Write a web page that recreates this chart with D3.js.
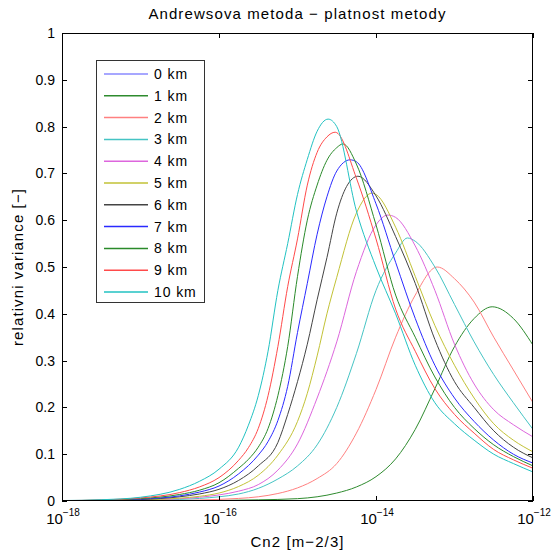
<!DOCTYPE html>
<html><head><meta charset="utf-8">
<script src="https://cdn.jsdelivr.net/npm/d3@7"></script>
<style>
body{margin:0;background:#fff}
svg{display:block}
text{font-family:"Liberation Sans",Arial,Helvetica,sans-serif;fill:#000}
</style>
</head><body>
<svg id="c" width="554" height="554"></svg>
<script>
// ---- data (x as log10 Cn2, y as relative variance) ----
const titleText = "Andrewsova metoda \u2212 platnost metody";
const xLabelText = "Cn2 [m\u22122/3]";
const yLabelText = "relativni variance [\u2212]";
const legendLabels = ["0 km","1 km","2 km","3 km","4 km","5 km","6 km","7 km","8 km","9 km","10 km"];
const lineColors = ["#8a8aff","#2e8b2e","#ff8080","#45c4c4","#dd66dd","#c2c236","#444444","#2a2aff","#2a8a2a","#ff4a4a","#22c2c2"];
const yTicks = [0,0.1,0.2,0.3,0.4,0.5,0.6,0.7,0.8,0.9,1];
const yTickLabels = ["0","0.1","0.2","0.3","0.4","0.5","0.6","0.7","0.8","0.9","1"];
const xTicks = [1e-18,1e-16,1e-14,1e-12];
const xTickExp = ["\u221218","\u221216","\u221214","\u221212"];

const km0 = [[-18,0],[-16,0],[-14,0],[-13,0.0005],[-12,0.001]];
const km1 = [[-18,0],[-17,0.0004],[-16,0.0012],[-15.5,0.0025],[-15,0.005],[-14.75,0.009],[-14.5,0.017],[-14.25,0.03],[-14,0.052],[-13.75,0.09],[-13.5,0.153],[-13.25,0.24],[-13,0.33],[-12.75,0.39],[-12.52,0.415],[-12.25,0.39],[-12,0.333]];
const km2 = [[-18,0],[-17.5,0.0001],[-17,0.0004],[-16.5,0.0013],[-16,0.0035],[-15.75,0.0055],[-15.5,0.009],[-15.25,0.016],[-15,0.028],[-14.75,0.048],[-14.5,0.08],[-14.25,0.145],[-14,0.238],[-13.75,0.35],[-13.5,0.44],[-13.22,0.5],[-13,0.475],[-12.75,0.425],[-12.5,0.35],[-12.25,0.28],[-12,0.21]];
const km3 = [[-18,0.0001],[-17.5,0.0004],[-17,0.0012],[-16.5,0.0033],[-16.25,0.0055],[-16,0.009],[-15.75,0.015],[-15.5,0.027],[-15.25,0.047],[-15,0.075],[-14.75,0.12],[-14.5,0.2],[-14.25,0.315],[-14,0.45],[-13.75,0.53],[-13.6,0.562],[-13.5,0.555],[-13.25,0.5],[-13,0.42],[-12.75,0.34],[-12.5,0.27],[-12.25,0.21],[-12,0.153]];
const km4 = [[-18,0.0002],[-17.5,0.0006],[-17,0.0017],[-16.5,0.0048],[-16.25,0.008],[-16,0.013],[-15.75,0.021],[-15.5,0.035],[-15.25,0.066],[-15,0.122],[-14.75,0.22],[-14.5,0.34],[-14.25,0.49],[-14,0.59],[-13.85,0.611],[-13.75,0.606],[-13.5,0.545],[-13.25,0.45],[-13,0.335],[-12.75,0.25],[-12.5,0.195],[-12.25,0.163],[-12,0.137]];
const km5 = [[-18,0.0002],[-17.5,0.0007],[-17,0.002],[-16.5,0.006],[-16.25,0.01],[-16,0.017],[-15.75,0.031],[-15.5,0.055],[-15.25,0.098],[-15,0.17],[-14.875,0.23],[-14.75,0.31],[-14.625,0.4],[-14.5,0.478],[-14.25,0.615],[-14.05,0.658],[-14,0.655],[-13.75,0.585],[-13.5,0.48],[-13.25,0.375],[-13,0.29],[-12.75,0.22],[-12.5,0.165],[-12.25,0.13],[-12,0.105]];
const km6 = [[-18,0.0004],[-17.5,0.001],[-17,0.003],[-16.5,0.009],[-16.25,0.015],[-16,0.025],[-15.75,0.044],[-15.5,0.075],[-15.25,0.125],[-15.125,0.185],[-15,0.255],[-14.875,0.335],[-14.75,0.43],[-14.625,0.52],[-14.5,0.615],[-14.375,0.672],[-14.23,0.694],[-14,0.652],[-13.75,0.565],[-13.5,0.465],[-13.25,0.345],[-13,0.255],[-12.75,0.2],[-12.5,0.15],[-12.25,0.115],[-12,0.092]];
const km7 = [[-18,0.0005],[-17.5,0.0014],[-17,0.004],[-16.5,0.011],[-16.25,0.019],[-16,0.032],[-15.75,0.058],[-15.5,0.098],[-15.375,0.127],[-15.25,0.172],[-15.125,0.245],[-15,0.36],[-14.875,0.465],[-14.75,0.57],[-14.625,0.65],[-14.5,0.705],[-14.33,0.729],[-14.25,0.725],[-14,0.635],[-13.75,0.51],[-13.5,0.39],[-13.25,0.29],[-13,0.22],[-12.75,0.17],[-12.5,0.13],[-12.25,0.1],[-12,0.081]];
const km8 = [[-18,0.0006],[-17.5,0.0018],[-17,0.005],[-16.5,0.014],[-16.25,0.023],[-16,0.039],[-15.75,0.07],[-15.625,0.089],[-15.5,0.115],[-15.375,0.155],[-15.25,0.225],[-15.125,0.33],[-15,0.48],[-14.875,0.6],[-14.75,0.675],[-14.625,0.728],[-14.5,0.755],[-14.42,0.763],[-14.25,0.72],[-14,0.59],[-13.75,0.44],[-13.5,0.35],[-13.25,0.265],[-13,0.2],[-12.75,0.155],[-12.5,0.12],[-12.25,0.095],[-12,0.075]];
const km9 = [[-18,0.0008],[-17.5,0.0023],[-17,0.0065],[-16.5,0.018],[-16.25,0.03],[-16,0.05],[-15.75,0.087],[-15.625,0.114],[-15.5,0.155],[-15.375,0.225],[-15.25,0.33],[-15.125,0.458],[-15,0.56],[-14.875,0.675],[-14.75,0.745],[-14.625,0.778],[-14.52,0.788],[-14.5,0.787],[-14.25,0.69],[-14,0.56],[-13.75,0.41],[-13.5,0.32],[-13.25,0.24],[-13,0.185],[-12.75,0.145],[-12.5,0.11],[-12.25,0.088],[-12,0.07]];
const km10 = [[-18,0.001],[-17.5,0.0027],[-17,0.008],[-16.5,0.025],[-16.25,0.042],[-16,0.068],[-15.75,0.115],[-15.625,0.162],[-15.5,0.225],[-15.375,0.32],[-15.25,0.45],[-15.125,0.55],[-15,0.655],[-14.875,0.73],[-14.75,0.79],[-14.61,0.816],[-14.5,0.8],[-14.25,0.62],[-14,0.5],[-13.75,0.4],[-13.5,0.29],[-13.25,0.21],[-13,0.165],[-12.75,0.13],[-12.5,0.1],[-12.25,0.08],[-12,0.062]];
const seriesList = [km0,km1,km2,km3,km4,km5,km6,km7,km8,km9,km10];

// ---- layout ----
const L = 62, R = 533, T = 33, B = 501;
const svg = d3.select("#c");
const x = d3.scaleLog().domain([1e-18,1e-12]).range([L,R]);
const y = d3.scaleLinear().domain([0,1]).range([B,T]);

// curves
svg.append("clipPath").attr("id","pc").append("rect")
  .attr("x",L).attr("y",T).attr("width",R-L).attr("height",B-T);
const line = d3.line()
  .x(d => x(Math.pow(10,d[0])))
  .y(d => y(d[1]))
  .curve(d3.curveMonotoneX);
const g = svg.append("g").attr("clip-path","url(#pc)");
seriesList.forEach((s,i) => {
  g.append("path").datum(s).attr("d",line)
    .attr("fill","none").attr("stroke",lineColors[i]).attr("stroke-width",1);
});

// axes box
const ax = svg.append("g");
ax.append("rect").attr("x",L+0.5).attr("y",T+0.5).attr("width",R-L-1).attr("height",B-T-1)
  .attr("fill","none").attr("stroke","#000").attr("stroke-width",1);

// y ticks (inside, both sides)
const tl = 5;
yTicks.forEach((v,i) => {
  const yy = Math.round(y(v)) + 0.5;
  ax.append("line").attr("x1",L).attr("x2",L+tl).attr("y1",yy).attr("y2",yy).attr("stroke","#000");
  ax.append("line").attr("x1",R-tl).attr("x2",R).attr("y1",yy).attr("y2",yy).attr("stroke","#000");
  ax.append("text").attr("x",L-7).attr("y",y(v)).attr("dy","0.35em")
    .attr("text-anchor","end").attr("font-size",14).text(yTickLabels[i]);
});
// x ticks (inside, top & bottom)
xTicks.forEach((v,i) => {
  const xx = Math.round(x(v)) + 0.5;
  ax.append("line").attr("x1",xx).attr("x2",xx).attr("y1",B).attr("y2",B-tl).attr("stroke","#000");
  ax.append("line").attr("x1",xx).attr("x2",xx).attr("y1",T).attr("y2",T+tl).attr("stroke","#000");
  const t = ax.append("text").attr("x",x(v)+1).attr("y",524).attr("text-anchor","middle").attr("font-size",15);
  t.append("tspan").text("10");
  t.append("tspan").attr("font-size",10).attr("dy",-8).text(xTickExp[i]);
});

// labels
svg.append("text").attr("x",(L+R)/2).attr("y",19).attr("text-anchor","middle")
  .attr("font-size",15).attr("letter-spacing",1.1).text(titleText);
svg.append("text").attr("x",(L+R)/2).attr("y",547).attr("text-anchor","middle")
  .attr("font-size",15).attr("letter-spacing",1.1).text(xLabelText);
svg.append("text").attr("transform",`translate(23,${(T+B)/2}) rotate(-90)`)
  .attr("text-anchor","middle").attr("font-size",15).attr("letter-spacing",1.1).text(yLabelText);

// legend
const lg = svg.append("g");
lg.append("rect").attr("x",96.5).attr("y",60.5).attr("width",108).attr("height",242)
  .attr("fill","#fff").attr("stroke","#333").attr("stroke-width",1);
legendLabels.forEach((lab,i) => {
  const yy = 74 + i*21.8;
  lg.append("line").attr("x1",104).attr("x2",148).attr("y1",yy).attr("y2",yy)
    .attr("stroke",lineColors[i]).attr("stroke-width",1.5);
  lg.append("text").attr("x",154).attr("y",yy).attr("dy","0.36em")
    .attr("font-size",14).attr("letter-spacing",0.9).text(lab);
});
</script>
</body></html>
